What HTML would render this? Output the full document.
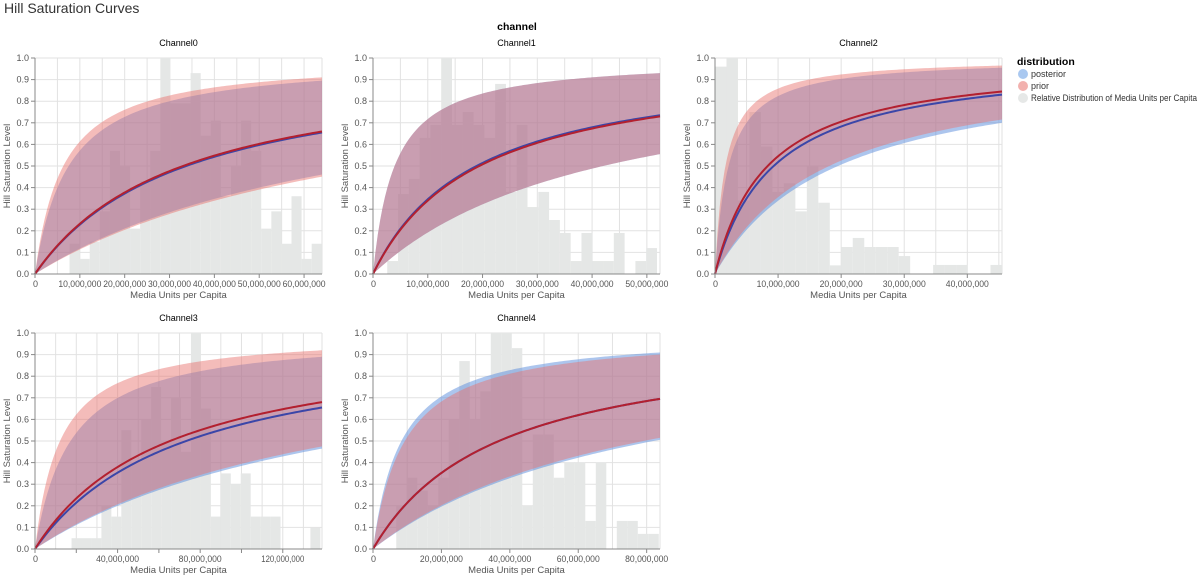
<!DOCTYPE html>
<html><head><meta charset="utf-8"><style>
html,body{margin:0;padding:0;background:#fff;}
svg{display:block;font-family:"Liberation Sans",sans-serif;}
</style></head><body>
<svg id="chart" width="1200" height="577" viewBox="0 0 1200 577">
<text x="4" y="13" font-size="14" fill="#333">Hill Saturation Curves</text>
<text x="517" y="30" font-size="10.5" font-weight="bold" fill="#000" text-anchor="middle">channel</text>
<g>
<text x="1017" y="65" font-size="10.5" font-weight="bold" fill="#000">distribution</text>
<circle cx="1023" cy="74" r="5" fill="#a9c8f0"/>
<text x="1031" y="77" font-size="9" fill="#333">posterior</text>
<circle cx="1023" cy="86" r="5" fill="#f2b1ae"/>
<text x="1031" y="89" font-size="9" fill="#333">prior</text>
<circle cx="1023" cy="98" r="5" fill="#e6e8e7"/>
<text x="1031" y="101" font-size="9" fill="#333" textLength="166" lengthAdjust="spacingAndGlyphs">Relative Distribution of Media Units per Capita</text>
</g>
</svg>
<script>
// ---- data (values in millions of media units per capita) ----
const channels = ["Channel0","Channel1","Channel2","Channel3","Channel4"];
const xMax = [64, 52.4, 45.5, 139, 83.9];
const gridStep = [5, 5, 5, 10, 10];
const labelStep = [10, 10, 10, 40, 20];
const tickStep = [10, 10, 10, 20, 20];
// hill half-saturation K (millions) for each curve
const priorMedK = [33, 19.4, 8.35, 65.4, 36.8];
const priorLoK = [78, 42, 18.1, 153.6, 79];
const priorHiK = [6.3, 3.94, 1.65, 12.1, 9.3];
const postMedK = [33.7, 18.9, 9.3, 73.2, 36.8];
const postLoK = [75, 42, 19.5, 160, 82];
const postHiK = [7.5, 3.94, 2.14, 17.2, 8.3];
const slope = [1, 1, 1, 1, 1];
// histograms
const binStart = [7.7, 2.6, 0, 17.7, 6.8];
const binWidth = [2.25, 1.97, 1.82, 4.82, 3.07];
const hist0 = [0.14,0.07,0.15,0.29,0.57,0.5,0.21,0.43,0.57,1.0,0.79,0.79,0.93,0.64,0.71,0.36,0.5,0.71,0.57,0.21,0.29,0.14,0.36,0.07,0.14];
const hist1 = [0.06,0.37,0.44,0.63,0.69,1.0,0.69,0.75,0.69,0.63,0.88,0.38,0.69,0.31,0.38,0.25,0.19,0.06,0.19,0.06,0.06,0.19,0,0.06,0.12];
const hist2 = [0.96,1.0,0.34,0.75,0.59,0.38,0.42,0.29,0.5,0.33,0.04,0.125,0.167,0.125,0.125,0.125,0.083,0,0,0.042,0.042,0.042,0,0,0.042];
const hist3 = [0.05,0.05,0.05,0.2,0.15,0.55,0.4,0.6,0.75,0.5,0.7,0.45,1.0,0.65,0.15,0.35,0.3,0.35,0.15,0.15,0.15,0,0,0,0.1];
const hist4 = [0.2,0.33,0.27,0.2,0.33,0.6,0.87,0.6,0.73,1.0,1.0,0.93,0.2,0.53,0.53,0.33,0.4,0.4,0.13,0.4,0,0.13,0.13,0.07,0.07];
const hists = [hist0,hist1,hist2,hist3,hist4];
const yTicks = [0,0.1,0.2,0.3,0.4,0.5,0.6,0.7,0.8,0.9,1.0];

// ---- layout ----
const panelX = [35, 373, 715, 35, 373];
const panelY = [58, 58, 58, 333, 333];
const PW = 287, PH = 216;
const NS = "http://www.w3.org/2000/svg";
const svg = document.getElementById("chart");
function mk(tag, attrs, parent){const e=document.createElementNS(NS,tag);for(const k in attrs)e.setAttribute(k,attrs[k]);(parent||svg).appendChild(e);return e;}
function fmt(v){return Math.round(v*1e6).toLocaleString("en-US");}
function hill(x,K,s){return x<=0?0:Math.pow(x,s)/(Math.pow(x,s)+Math.pow(K,s));}

channels.forEach((name,i)=>{
  const x0=panelX[i], y0=panelY[i];
  const sx=v=>x0+v/xMax[i]*PW;
  const sy=v=>y0+PH-v*PH;
  const g=mk("g",{});
  
  
  const t=mk("text",{x:x0+PW/2,y:y0-12,"font-size":"9","text-anchor":"middle",fill:"#000"},g);
  t.textContent=name;
  
  
  for(let v=0; v<=xMax[i]+1e-9; v+=gridStep[i]){
    const l=mk("line",{x1:sx(v),x2:sx(v),y1:y0,y2:y0+PH,stroke:"#e2e2e2","stroke-width":"1"},g);
    
    
  }
  yTicks.forEach(v=>{
    const l=mk("line",{x1:x0,x2:x0+PW,y1:sy(v),y2:sy(v),stroke:"#e2e2e2","stroke-width":"1"},g);
    
    
  });
  mk("line",{x1:x0+PW,x2:x0+PW,y1:y0,y2:y0+PH,stroke:"#e2e2e2"},g);
  hists[i].forEach((h,j)=>{
    if(h<=0) return;
    const a=binStart[i]+j*binWidth[i], b=Math.min(a+binWidth[i],xMax[i]);
    const r=mk("rect",{x:sx(a),y:sy(h),width:Math.max(0,sx(b)-sx(a)),height:sy(0)-sy(h),fill:"#e5e7e6"},g);
    
    
  });
  function band(loK,hiK,fill,nm){
    let up="",dn="";
    const N=120;
    for(let k=0;k<=N;k++){const x=xMax[i]*k/N;up+=(k?"L":"M")+sx(x).toFixed(2)+","+sy(hill(x,hiK,slope[i])).toFixed(2);}
    for(let k=N;k>=0;k--){const x=xMax[i]*k/N;dn+="L"+sx(x).toFixed(2)+","+sy(hill(x,loK,slope[i])).toFixed(2);}
    const p=mk("path",{d:up+dn+"Z",fill:fill},g);
    
    
  }
  band(postLoK[i],postHiK[i],"rgba(90,140,220,0.5)","posterior-band");
  band(priorLoK[i],priorHiK[i],"rgba(232,115,110,0.48)","prior-band");
  function line(K,col,nm){
    let d="";const N=120;
    for(let k=0;k<=N;k++){const x=xMax[i]*k/N;d+=(k?"L":"M")+sx(x).toFixed(2)+","+sy(hill(x,K,slope[i])).toFixed(2);}
    const p=mk("path",{d:d,fill:"none",stroke:col,"stroke-width":"2"},g);
    
    
  }
  line(postMedK[i],"#3b46a8","posterior-median-line");
  line(priorMedK[i],"#b3202f","prior-median-line");
  mk("line",{x1:x0,x2:x0,y1:y0,y2:y0+PH,stroke:"#888"},g);
  mk("line",{x1:x0,x2:x0+PW,y1:y0+PH,y2:y0+PH,stroke:"#888"},g);
  yTicks.forEach(v=>{
    mk("line",{x1:x0-4,x2:x0,y1:sy(v),y2:sy(v),stroke:"#888"},g);
    const tl=mk("text",{x:x0-6,y:sy(v)+3,"font-size":"9","text-anchor":"end",fill:"#555"},g);
    tl.textContent=v.toFixed(1);
    
    
  });
  for(let v=0; v<=xMax[i]+1e-9; v+=tickStep[i]) mk("line",{x1:sx(v),x2:sx(v),y1:y0+PH,y2:y0+PH+4,stroke:"#888"},g);
  for(let v=0; v<=xMax[i]+1e-9; v+=labelStep[i]){
    const tl=mk("text",{x:v===0?sx(v)-2:sx(v),y:y0+PH+13,"font-size":"9","text-anchor":v===0?"start":"middle",fill:"#555"},g);
    tl.textContent=v===0?"0":fmt(v);
    if(v!==0){ tl.setAttribute('textLength','43'); tl.setAttribute('lengthAdjust','spacingAndGlyphs'); }
    
    
  }
  const xt=mk("text",{x:x0+PW/2,y:y0+PH+24,"font-size":"9.5","text-anchor":"middle",fill:"#555"},g);
  xt.textContent="Media Units per Capita";
  
  
  const yt=mk("text",{x:0,y:0,"font-size":"9.5","text-anchor":"middle",fill:"#555",transform:`translate(${x0-25},${y0+PH/2}) rotate(-90)`},g);
  yt.textContent="Hill Saturation Level";
  
  
});
</script>
</body></html>
